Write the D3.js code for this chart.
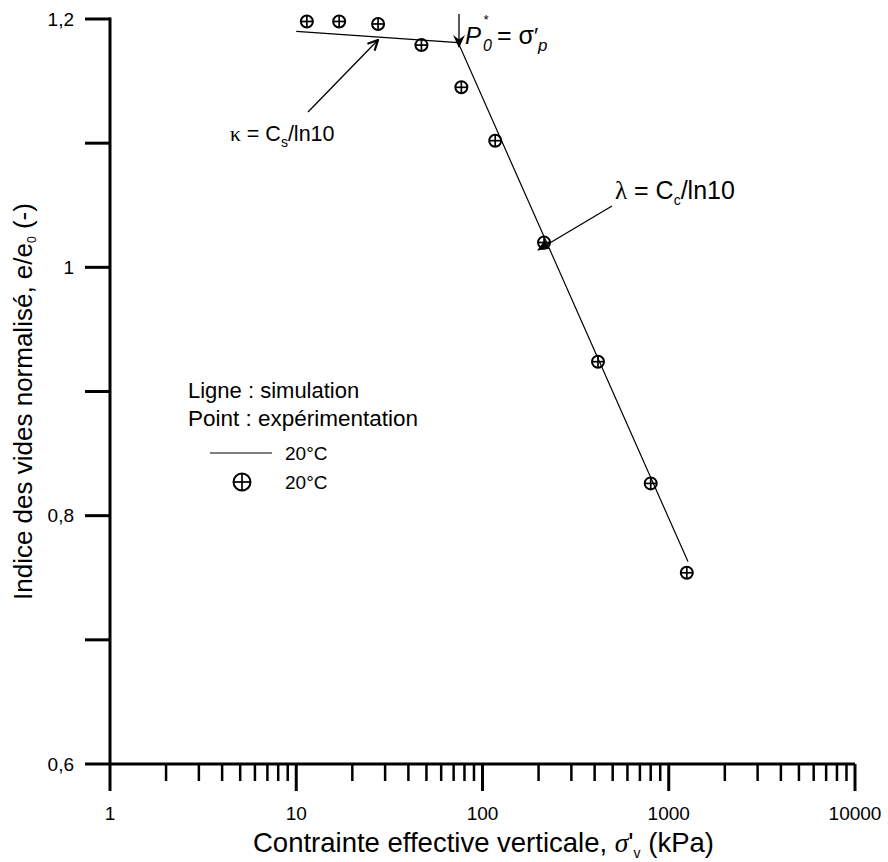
<!DOCTYPE html>
<html><head><meta charset="utf-8">
<script src="https://cdn.jsdelivr.net/npm/d3@7"></script>
<style>body{margin:0;background:#fff}svg{display:block}text{font-family:"Liberation Sans",Arial,sans-serif;fill:#000}</style>
</head><body>
<script>
// Experimental points (σ'v in kPa, e/e0)
const expStress = [11.4, 17, 27.5, 47, 77, 117, 214, 417, 800, 1250];
const expRatio  = [1.198, 1.198, 1.196, 1.179, 1.145, 1.102, 1.020, 0.924, 0.826, 0.754];
// Simulation line
const simStress = [10, 74, 1268];
const simRatio  = [1.190, 1.181, 0.763];
// Axis ticks
const xMajorTicks = [1, 10, 100, 1000, 10000];
const xTickLabels = ["1", "10", "100", "1000", "10000"];
const yTicks = [0.6, 0.7, 0.8, 0.9, 1.0, 1.1, 1.2];
const yTickLabels = ["0,6", "", "0,8", "", "1", "", "1,2"];

const W = 888, H = 862;
const svg = d3.select("body").append("svg").attr("width", W).attr("height", H);

const x = d3.scaleLog().domain([1, 10000]).range([110, 855]);
const y = d3.scaleLinear().domain([0.6, 1.2]).range([764, 19]);

// Axes lines
svg.append("line").attr("x1", 110).attr("x2", 110).attr("y1", y(1.2) - 1.5).attr("y2", y(0.6))
  .attr("stroke", "#000").attr("stroke-width", 3);
svg.append("line").attr("x1", 110).attr("x2", x(10000)).attr("y1", 764).attr("y2", 764)
  .attr("stroke", "#000").attr("stroke-width", 3);

// y ticks
const yg = svg.append("g");
yTicks.forEach((v, i) => {
  yg.append("line").attr("x1", 85).attr("x2", 110).attr("y1", y(v)).attr("y2", y(v))
    .attr("stroke", "#000").attr("stroke-width", 3);
  if (yTickLabels[i]) yg.append("text").attr("x", 74).attr("y", y(v)).attr("dy", "0.35em")
    .attr("text-anchor", "end").attr("font-size", 19).text(yTickLabels[i]);
});

// x ticks
const xg = svg.append("g");
const minor = [];
for (let d = 1; d < 10000; d *= 10) for (let k = 2; k <= 9; k++) minor.push(d * k);
minor.forEach(v => xg.append("line").attr("x1", x(v)).attr("x2", x(v)).attr("y1", 764).attr("y2", 781)
  .attr("stroke", "#000").attr("stroke-width", 2.5));
xMajorTicks.forEach((v, i) => {
  xg.append("line").attr("x1", x(v)).attr("x2", x(v)).attr("y1", 764).attr("y2", 791)
    .attr("stroke", "#000").attr("stroke-width", 3);
  xg.append("text").attr("x", x(v)).attr("y", 813).attr("dy", "0.35em").attr("text-anchor", "middle")
    .attr("font-size", 19).text(xTickLabels[i]);
});

// Axis titles
const xt = svg.append("text").attr("x", 253).attr("y", 852).attr("text-anchor", "start").attr("font-size", 27.5);
xt.append("tspan").text("Contrainte effective verticale, ");
xt.append("tspan").attr("font-family", "Liberation Serif, serif").attr("font-style", "italic").text("σ");
xt.append("tspan").text("'");
xt.append("tspan").attr("font-size", 14).attr("dy", 6).text("v");
xt.append("tspan").attr("dy", -6).text(" (kPa)");

const yt = svg.append("text").attr("transform", "translate(32,600) rotate(-90)").attr("text-anchor", "start").attr("font-size", 26);
yt.append("tspan").text("Indice des vides normalisé, e/e");
yt.append("tspan").attr("font-size", 12).attr("dy", 4).text("0");
yt.append("tspan").attr("dy", -4).text(" (-)");

// Simulation line
const line = d3.line().x((d, i) => x(simStress[i])).y((d, i) => y(simRatio[i]));
svg.append("path").attr("d", line(simStress)).attr("fill", "none").attr("stroke", "#000").attr("stroke-width", 1.2);

// Marker drawing
function crossCircle(g, cx, cy, r) {
  g.append("circle").attr("cx", cx).attr("cy", cy).attr("r", r).attr("fill", "none").attr("stroke", "#000").attr("stroke-width", 2);
  g.append("line").attr("x1", cx - r).attr("x2", cx + r).attr("y1", cy).attr("y2", cy).attr("stroke", "#000").attr("stroke-width", 1.7);
  g.append("line").attr("x1", cx).attr("x2", cx).attr("y1", cy - r).attr("y2", cy + r).attr("stroke", "#000").attr("stroke-width", 1.7);
}
const pg = svg.append("g");
expStress.forEach((s, i) => crossCircle(pg, x(s), y(expRatio[i]), 6));

// Arrow markers
const defs = svg.append("defs");
defs.append("marker").attr("id", "open").attr("viewBox", "0 0 12 12").attr("refX", 11).attr("refY", 6)
  .attr("markerWidth", 12).attr("markerHeight", 12).attr("markerUnits", "userSpaceOnUse").attr("orient", "auto")
  .append("path").attr("d", "M1,1 L11,6 L1,11").attr("fill", "none").attr("stroke", "#000").attr("stroke-width", 2.2);
defs.append("marker").attr("id", "barb").attr("viewBox", "0 0 12 12").attr("refX", 11).attr("refY", 6)
  .attr("markerWidth", 13).attr("markerHeight", 13).attr("markerUnits", "userSpaceOnUse").attr("orient", "auto")
  .append("path").attr("d", "M0,0.5 L12,6 L0,11.5 L4,6 Z").attr("fill", "#000");
defs.append("marker").attr("id", "filled").attr("viewBox", "0 0 12 12").attr("refX", 11).attr("refY", 6)
  .attr("markerWidth", 12).attr("markerHeight", 12).attr("markerUnits", "userSpaceOnUse").attr("orient", "auto")
  .append("path").attr("d", "M0,1 L12,6 L0,11 Z").attr("fill", "#000");

// P0* arrow and label
svg.append("line").attr("x1", 459).attr("y1", 14).attr("x2", 459).attr("y2", 47)
  .attr("stroke", "#000").attr("stroke-width", 1.3).attr("marker-end", "url(#barb)");
const serif = "Liberation Serif, serif";
svg.append("text").attr("x", 465).attr("y", 44).attr("font-family", serif).attr("font-style", "italic").attr("font-size", 24).text("P");
svg.append("text").attr("x", 483).attr("y", 24).attr("font-family", serif).attr("font-style", "italic").attr("font-size", 13).text("*");
svg.append("text").attr("x", 483).attr("y", 51).attr("font-family", serif).attr("font-style", "italic").attr("font-size", 16).text("0");
const pt = svg.append("text").attr("x", 497).attr("y", 44).attr("font-family", serif).attr("font-size", 25);
pt.append("tspan").text("= σ");
pt.append("tspan").attr("font-size", 22).attr("dy", -1).text("′");
pt.append("tspan").attr("font-style", "italic").attr("font-size", 17).attr("dy", 8).text("p");

// kappa annotation
svg.append("line").attr("x1", 308).attr("y1", 112).attr("x2", 378).attr("y2", 40)
  .attr("stroke", "#000").attr("stroke-width", 1.3).attr("marker-end", "url(#open)");
const kt = svg.append("text").attr("x", 230).attr("y", 141).attr("font-size", 21.5);
kt.append("tspan").attr("font-family", serif).text("κ");
kt.append("tspan").text(" = C");
kt.append("tspan").attr("font-size", 14).attr("dy", 6).text("s");
kt.append("tspan").attr("dy", -6).text("/ln10");

// lambda annotation
svg.append("line").attr("x1", 612).attr("y1", 206).attr("x2", 538).attr("y2", 250)
  .attr("stroke", "#000").attr("stroke-width", 1.3).attr("marker-end", "url(#filled)");
const lt = svg.append("text").attr("x", 615).attr("y", 199).attr("font-size", 25);
lt.append("tspan").attr("font-family", serif).text("λ");
lt.append("tspan").text(" = C");
lt.append("tspan").attr("font-size", 14).attr("dy", 6).text("c");
lt.append("tspan").attr("dy", -6).text("/ln10");

// Legend
svg.append("text").attr("x", 188).attr("y", 398).attr("font-size", 22).text("Ligne : simulation");
svg.append("text").attr("x", 188).attr("y", 426).attr("font-size", 22.5).text("Point : expérimentation");
svg.append("line").attr("x1", 210).attr("x2", 272).attr("y1", 453).attr("y2", 453).attr("stroke", "#000").attr("stroke-width", 1.2);
svg.append("text").attr("x", 285).attr("y", 460).attr("font-size", 19).text("20°C");
crossCircle(svg.append("g"), 242, 482, 8.5);
svg.append("text").attr("x", 285).attr("y", 489).attr("font-size", 19).text("20°C");
</script>
</body></html>
